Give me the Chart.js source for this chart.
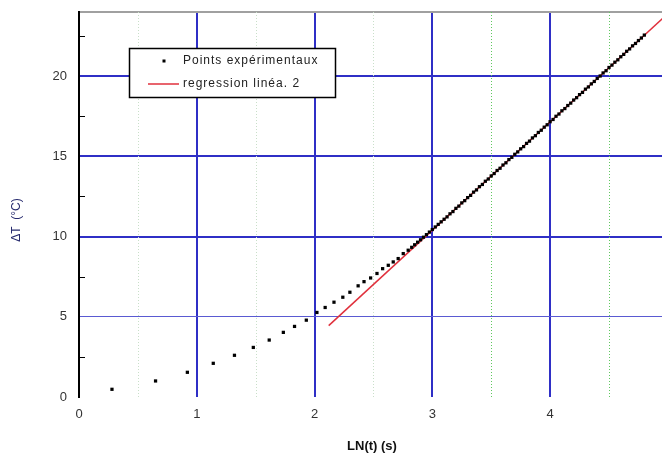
<!DOCTYPE html>
<html>
<head>
<meta charset="utf-8">
<script src="https://cdn.jsdelivr.net/npm/chart.js@4.4.1/dist/chart.umd.min.js"></script>
<style>
  html, body { margin: 0; padding: 0; background: #fff; }
</style>
</head>
<body>
<canvas id="lnChart" width="666" height="457"></canvas>
<script>
const pointsX = [
    0.28, 0.65, 0.92, 1.14, 1.32, 1.48, 1.615, 1.735, 1.83, 1.93,
    2.02, 2.09, 2.165, 2.24, 2.30, 2.37, 2.42, 2.476, 2.53, 2.578,
    2.626, 2.668, 2.71, 2.753, 2.795,
    2.825, 2.85, 2.875, 2.90, 2.925, 2.95, 2.975, 3.00, 3.025, 3.05,
    3.075, 3.10, 3.125, 3.15, 3.175, 3.20, 3.225, 3.25, 3.275, 3.30,
    3.325, 3.35, 3.375, 3.40, 3.425, 3.45, 3.475, 3.50, 3.525, 3.55,
    3.575, 3.60, 3.625, 3.65, 3.675, 3.70, 3.725, 3.75, 3.775, 3.80,
    3.825, 3.85, 3.875, 3.90, 3.925, 3.95, 3.975, 4.00, 4.025, 4.05,
    4.075, 4.10, 4.125, 4.15, 4.175, 4.20, 4.225, 4.25, 4.275, 4.30,
    4.325, 4.35, 4.375, 4.40, 4.425, 4.45, 4.475, 4.50, 4.525, 4.55,
    4.575, 4.60, 4.625, 4.65, 4.675, 4.70, 4.725, 4.75, 4.775, 4.80
];
const pointsY = [
    0.48, 1.00, 1.54, 2.10, 2.60, 3.09, 3.55, 4.03, 4.40, 4.79,
    5.27, 5.58, 5.91, 6.22, 6.53, 6.93, 7.19, 7.42, 7.70, 8.00,
    8.21, 8.42, 8.63, 8.94, 9.15,
    9.33, 9.49, 9.65, 9.80, 9.96, 10.12, 10.28, 10.44, 10.60, 10.76,
    10.92, 11.08, 11.23, 11.42, 11.56, 11.76, 11.90, 12.10, 12.24, 12.43,
    12.57, 12.77, 12.91, 13.11, 13.25, 13.45, 13.59, 13.78, 13.93, 14.12,
    14.26, 14.46, 14.60, 14.80, 14.94, 15.13, 15.28, 15.47, 15.61, 15.81,
    15.95, 16.15, 16.29, 16.49, 16.63, 16.82, 16.97, 17.16, 17.30, 17.50,
    17.64, 17.84, 17.98, 18.17, 18.32, 18.51, 18.66, 18.85, 18.99, 19.19,
    19.33, 19.52, 19.67, 19.86, 20.01, 20.20, 20.34, 20.54, 20.69, 20.87,
    21.02, 21.21, 21.36, 21.55, 21.70, 21.89, 22.04, 22.22, 22.38, 22.56
];

// regression line end points
const regressionX = [2.12, 4.98];
const regressionY = [4.45, 23.77];

const xTicks = [0, 1, 2, 3, 4];
const xMinorTicks = [0.5, 1.5, 2.5, 3.5, 4.5];
const yTicks = [0, 5, 10, 15, 20, 24];
const yMinorTicks = [2.5, 7.5, 12.5, 17.5, 22.5];
const legendLabels = ['Points expérimentaux', 'regression linéa. 2'];

const FONT = '"Liberation Sans", Arial, sans-serif';

// minor grid, minor ticks, legend box and axis titles
const framePlugin = {
    id: 'framePlugin',
    beforeDatasetsDraw(chart)
    {
        const {ctx, chartArea: area, scales: {x, y}} = chart;
        ctx.save();
        ctx.lineWidth = 1;
        ctx.setLineDash([1, 2]);
        xMinorTicks.forEach(v =>
        {
            const px = Math.round(x.getPixelForValue(v)) + 0.5;
            ctx.strokeStyle = v > 3 ? '#5fc85f' : '#c9dfc9';
            ctx.beginPath();
            ctx.moveTo(px, area.top);
            ctx.lineTo(px, area.bottom);
            ctx.stroke();
        });
        ctx.setLineDash([]);
        ctx.strokeStyle = '#000';
        yMinorTicks.forEach(v =>
        {
            const py = Math.round(y.getPixelForValue(v)) + 0.5;
            ctx.beginPath();
            ctx.moveTo(area.left, py);
            ctx.lineTo(area.left + 6, py);
            ctx.stroke();
        });
        ctx.restore();
    },
    afterDatasetsDraw(chart)
    {
        const ctx = chart.ctx;
        ctx.save();

        // legend box
        ctx.fillStyle = '#fff';
        ctx.fillRect(129.5, 48.5, 206, 49);
        ctx.strokeStyle = '#000';
        ctx.lineWidth = 1.5;
        ctx.strokeRect(129.5, 48.5, 206, 49);

        ctx.fillStyle = '#000';
        ctx.fillRect(162.5, 59.5, 3, 3);
        ctx.strokeStyle = '#e0303c';
        ctx.lineWidth = 1.5;
        ctx.beginPath();
        ctx.moveTo(148, 84);
        ctx.lineTo(179, 84);
        ctx.stroke();

        ctx.font = '12px ' + FONT;
        ctx.letterSpacing = '1px';
        ctx.fillStyle = '#222';
        ctx.textBaseline = 'middle';
        ctx.textAlign = 'left';
        ctx.fillText(legendLabels[0], 183, 61);
        ctx.fillText(legendLabels[1], 183, 84);
        ctx.letterSpacing = '0px';

        // axis titles
        ctx.font = '600 13px ' + FONT;
        ctx.fillStyle = '#111';
        ctx.textAlign = 'center';
        ctx.fillText('LN(t) (s)', 372, 446);

        ctx.translate(17, 220);
        ctx.rotate(-Math.PI / 2);
        ctx.font = '12px ' + FONT;
        ctx.fillStyle = '#262a6e';
        ctx.fillText('\u0394T  (°C)', 0, 0);

        ctx.restore();
    }
};

function buildPoints()
{
    return pointsX.map((v, i) => ({x: v, y: pointsY[i]}));
}

function buildRegression()
{
    return regressionX.map((v, i) => ({x: v, y: regressionY[i]}));
}

const ctx = document.getElementById('lnChart').getContext('2d');
new Chart(ctx, {
    type: 'scatter',
    data: {
        datasets: [
            {
                label: legendLabels[0],
                data: buildPoints(),
                pointStyle: 'rect',
                pointRadius: 2.3,
                pointBorderWidth: 0,
                backgroundColor: '#000'
            },
            {
                label: legendLabels[1],
                type: 'line',
                data: buildRegression(),
                showLine: true,
                pointRadius: 0,
                borderColor: '#e0303c',
                borderWidth: 1.5,
                fill: false
            }
        ]
    },
    options: {
        responsive: false,
        animation: false,
        layout: {padding: {top: 12, right: 0, left: 0, bottom: 0}},
        plugins: {
            legend: {display: false},
            tooltip: {enabled: false}
        },
        scales: {
            x: {
                type: 'linear',
                min: 0,
                max: 4.95,
                afterBuildTicks: scale => { scale.ticks = xTicks.map(v => ({value: v})); },
                afterFit: scale => { scale.height = 60; },
                border: {display: false},
                grid: {
                    drawTicks: false,
                    color: c => c.tick && c.tick.value === 0 ? 'rgba(0,0,0,0)' : '#2f2fc6',
                    lineWidth: 2
                },
                ticks: {
                    padding: 10,
                    color: '#333',
                    font: {family: FONT, size: 13}
                }
            },
            y: {
                type: 'linear',
                min: 0,
                max: 24,
                afterBuildTicks: scale => { scale.ticks = yTicks.map(v => ({value: v})); },
                afterFit: scale =>
                {
                    scale.width = 79;
                    scale.paddingTop = 0;
                    scale.paddingBottom = 0;
                },
                border: {display: true, color: '#000', width: 2},
                grid: {
                    drawTicks: false,
                    color: c =>
                    {
                        const v = c.tick ? c.tick.value : null;
                        if (v === 0) return 'rgba(0,0,0,0)';
                        if (v === 24) return '#a0a0a0';
                        if (v === 5) return '#5a5ad2';
                        return '#2f2fc6';
                    },
                    lineWidth: c => (c.tick && c.tick.value === 5) ? 1 : 2
                },
                ticks: {
                    padding: 12,
                    color: '#333',
                    font: {family: FONT, size: 13},
                    callback: v => (v === 24 ? '' : v)
                }
            }
        }
    },
    plugins: [framePlugin]
});
</script>
</body>
</html>
